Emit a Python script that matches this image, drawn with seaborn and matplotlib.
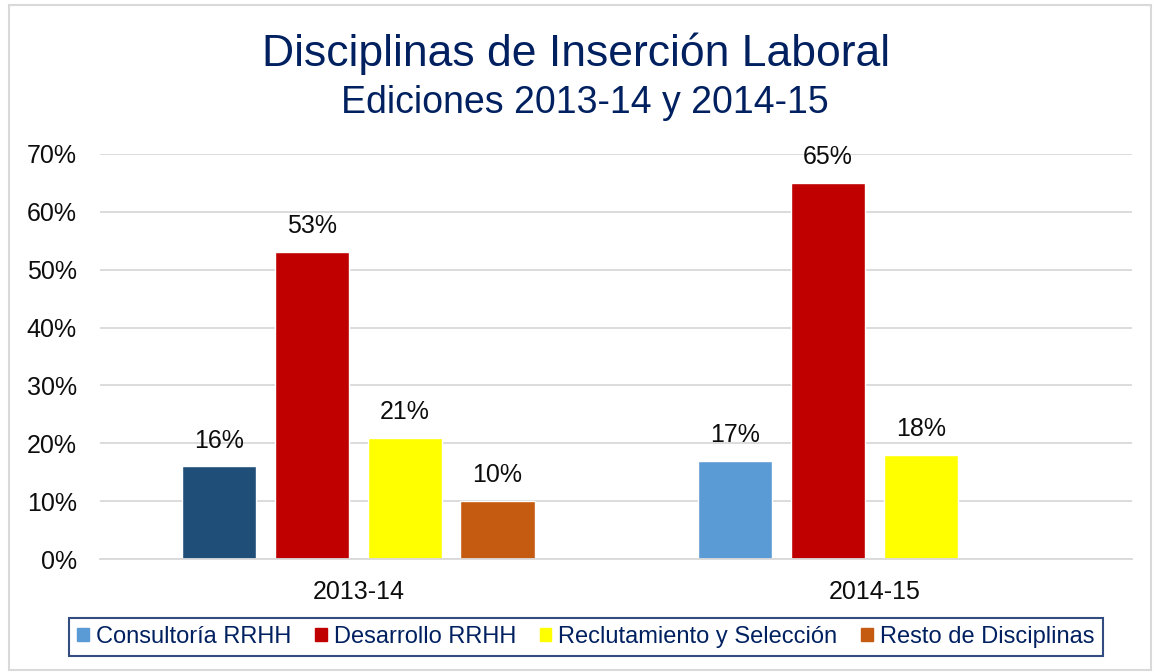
import matplotlib.pyplot as plt
import seaborn as sns
import numpy as np
import pandas as pd
from matplotlib.patches import Rectangle

ediciones = ["2013-14", "2014-15"]
disciplinas = ["Consultoría RRHH", "Desarrollo RRHH", "Reclutamiento y Selección", "Resto de Disciplinas"]
valores_1314 = [16, 53, 21, 10]
valores_1415 = [17, 65, 18, np.nan]
colores = ["#5B9BD5", "#C00000", "#FFFF00", "#C55A11"]

df = pd.DataFrame({
    "edicion": np.repeat(ediciones, len(disciplinas)),
    "disciplina": disciplinas * 2,
    "valor": valores_1314 + valores_1415,
})

sns.set_style("white")
plt.rcParams["font.family"] = ["Liberation Sans", "DejaVu Sans"]

fig = plt.figure(figsize=(11.53, 6.72), dpi=100)
ax = fig.add_axes([0.087, 0.168, 0.895, 0.603])

sns.barplot(data=df, x="edicion", y="valor", hue="disciplina", hue_order=disciplinas,
            palette=colores, saturation=1, width=0.72, gap=0.2, ax=ax, legend=False)

# primera barra de 2013-14 en azul oscuro
for p in ax.patches:
    if abs(p.get_height() - 16) < 0.01:
        p.set_facecolor("#1F4E79")

for cont in ax.containers:
    ax.bar_label(cont, labels=[f"{v:.0f}%" if not np.isnan(v) else "" for v in cont.datavalues],
                 padding=10, fontsize=18, color="#0D0D0D")

ax.set_ylim(0, 70)
ax.set_yticks(range(0, 71, 10))
ax.set_yticklabels([f"{v}%" for v in range(0, 71, 10)], fontsize=18, color="#0D0D0D")
ax.tick_params(axis="x", labelsize=18, labelcolor="#0D0D0D", length=0, pad=15)
ax.tick_params(axis="y", length=0, pad=17)
ax.grid(axis="y", color="#D9D9D9", linewidth=1.3)
ax.set_axisbelow(True)
for s in ["top", "right", "left"]:
    ax.spines[s].set_visible(False)
ax.spines["bottom"].set_color("#D9D9D9")
ax.spines["bottom"].set_linewidth(1.3)
ax.set_xlabel("")
ax.set_ylabel("")

fig.text(0.5, 0.92, "Disciplinas de Inserción Laboral", ha="center", va="center",
         fontsize=32, color="#002060")
fig.text(0.507, 0.847, "Ediciones 2013-14 y 2014-15", ha="center", va="center",
         fontsize=27, color="#002060")

handles = [Rectangle((0, 0), 1, 1, color=c) for c in colores]
leg = fig.legend(handles, disciplinas, loc="lower center", bbox_to_anchor=(0.508, 0.006),
                 ncol=4, fontsize=17, frameon=True, fancybox=False,
                 handlelength=0.5, handleheight=0.5, handletextpad=0.3, columnspacing=1.0,
                 borderpad=0.35)
leg.get_frame().set_edgecolor("#002060")
leg.get_frame().set_linewidth(1.5)
for t in leg.get_texts():
    t.set_color("#002060")

fig.patches.append(Rectangle((0.008, 0.003), 0.99, 0.99, transform=fig.transFigure,
                             fill=False, edgecolor="#D9D9D9", linewidth=1.5))

fig.savefig("out.png", dpi=100)
